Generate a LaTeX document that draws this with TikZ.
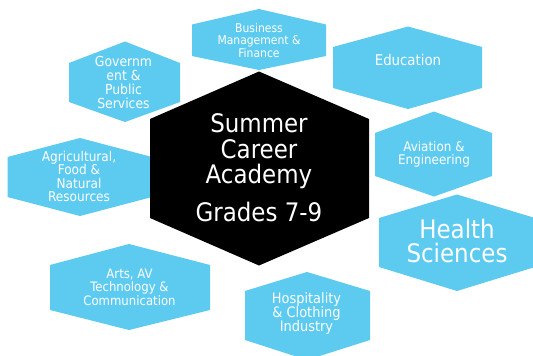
\documentclass[tikz,border=0pt]{standalone}
\usepackage{fontspec}
\setmainfont{DejaVu Sans Condensed}
\definecolor{hexblue}{RGB}{93,203,239}
\tikzset{
  hexfill/.style={fill=hexblue, draw=none},
  centerfill/.style={fill=black, draw=none},
  lbl/.style={text=white, align=center, inner sep=0pt, anchor=center},
}
% \hexpath{cx}{top}{left}{right}{s1}{s2}{bottom}
\newcommand{\hexpath}[7]{(#1,#2) -- (#4,#5) -- (#4,#6) -- (#1,#7) -- (#3,#6) -- (#3,#5) -- cycle}
\begin{document}
\begin{tikzpicture}[x=1pt,y=-1pt]
\useasboundingbox (0,0) rectangle (533,356);
\fill[white] (0,0) rectangle (533,356);
% blue hexagons
\path[hexfill] \hexpath{259}{9}{192}{326}{24.5}{56}{70};
\path[hexfill] \hexpath{408}{26.5}{333}{482}{47}{88}{109};
\path[hexfill] \hexpath{125}{41.5}{69}{180}{63}{102}{122};
\path[hexfill] \hexpath{80}{138}{7.5}{152}{157}{197}{216};
\path[hexfill] \hexpath{434}{111.5}{375}{492}{133}{176}{196.5};
\path[hexfill] \hexpath{457}{194.5}{379}{535}{218}{267}{291};
\path[hexfill] \hexpath{129}{244}{50}{210}{265}{310}{330};
\path[hexfill] \hexpath{307}{272}{245}{370}{291}{340}{360};
% central hexagon
\path[centerfill] \hexpath{259}{71.5}{150}{369}{119}{218}{265.5};
% labels
\node[lbl, font=\fontsize{12}{12.4}\selectfont] (business) at (259,40.5) {Business\\Management \&\\Finance};
\node[lbl, font=\fontsize{14.8}{15}\selectfont] (education) at (408,59.5) {Education};
\node[lbl, font=\fontsize{13.8}{14}\selectfont] (government) at (123.5,82) {Governm\\ent \&\\Public\\Services};
\node[lbl, font=\fontsize{13.5}{13.4}\selectfont] (agri) at (79,176.5) {Agricultural,\\Food \&\\Natural\\Resources};
\node[lbl, font=\fontsize{13.3}{13}\selectfont] (aviation) at (434,154) {Aviation \&\\Engineering};
\node[lbl, font=\fontsize{25.5}{24.5}\selectfont] (health) at (457,241) {Health\\Sciences};
\node[lbl, font=\fontsize{13}{13.6}\selectfont] (arts) at (129.5,287) {Arts, AV\\Technology \&\\Communication};
\node[lbl, font=\fontsize{14.4}{14.2}\selectfont] (hosp) at (306.5,313.5) {Hospitality\\\& Clothing\\Industry};
\node[lbl, font=\fontsize{25.5}{25.5}\selectfont] (title) at (259,151.5) {Summer\\Career\\Academy};
\node[lbl, font=\fontsize{25.5}{25.5}\selectfont] (grades) at (259,211.5) {Grades 7-9};
\end{tikzpicture}
\end{document}
